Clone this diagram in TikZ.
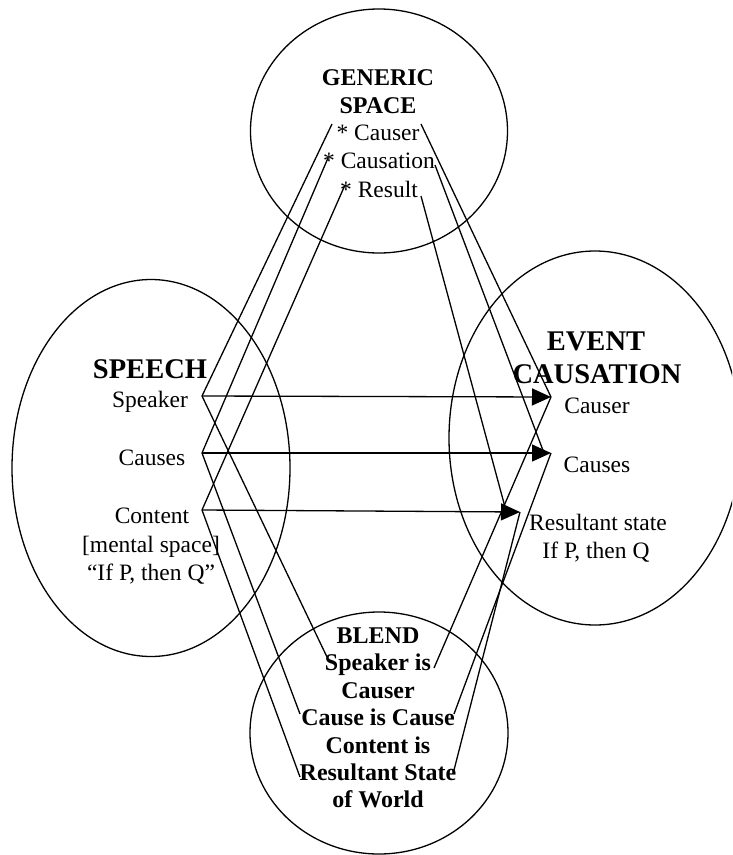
\documentclass[tikz,border=0pt]{standalone}
\usepackage{fontspec}
\setmainfont{Liberation Serif}
\usetikzlibrary{arrows.meta}
\tikzset{
	txt/.style={anchor=base, inner sep=0pt, font=\fontsize{23.5}{28}\selectfont},
	bigtitle/.style={txt, font=\fontsize{28.5}{33}\selectfont\bfseries},
	smalltitle/.style={txt, font=\fontsize{24}{28}\selectfont\bfseries},
	map/.style={-{Triangle[length=19pt,width=17pt]}}
}
\begin{document}
\begin{tikzpicture}[x=1pt,y=-1pt,line width=1.3pt]
	\clip (0,0) rectangle (732,855);
	\useasboundingbox (0,0) rectangle (732,855);
	% the four spaces
	\draw (379,131) ellipse [x radius=128.5, y radius=122];
	\draw (151,468) ellipse [x radius=139, y radius=188.5];
	\draw (595,438) ellipse [x radius=146, y radius=187];
	\draw (379,733) ellipse [x radius=129, y radius=121];
	% generic space
	\node [smalltitle] (gen-a) at (378,85) {GENERIC};
	\node [smalltitle] (gen-b) at (378,113) {SPACE};
	\node [txt] (gen-1) at (378,140) {* Causer};
	\node [txt] (gen-2) at (379,168) {* Causation};
	\node [txt] (gen-3) at (379,197) {* Result};
	% speech
	\node [bigtitle] (sp-a) at (150,378) {SPEECH};
	\node [txt] (sp-1) at (150,407) {Speaker};
	\node [txt] (sp-2) at (152,465) {Causes};
	\node [txt] (sp-3) at (152,523) {Content};
	\node [txt] (sp-4) at (151,552) {[mental space]};
	\node [txt] (sp-5) at (151,580) {“If P, then Q”};
	% event causation
	\node [bigtitle] (ev-a) at (596,350) {EVENT};
	\node [bigtitle] (ev-b) at (597,383) {CAUSATION};
	\node [txt] (ev-1) at (597,413) {Causer};
	\node [txt] (ev-2) at (597,472) {Causes};
	\node [txt] (ev-3) at (598,530) {Resultant state};
	\node [txt] (ev-4) at (596,558) {If P, then Q};
	% blend
	\foreach \t [count=\i] in {BLEND, Speaker is, Causer, Cause is Cause, Content is, Resultant State, of World}
		\node [smalltitle] (bl-\i) at (378,{616+27.4*\i}) {\t};
	% end points of the mappings
	\coordinate (gl1) at (332,124);
	\coordinate (gl2) at (328,158);
	\coordinate (gl3) at (345,185);
	\coordinate (gr1) at (421,124);
	\coordinate (gr2) at (435,165);
	\coordinate (gr3) at (421,196);
	\coordinate (sp1) at (202,396);
	\coordinate (sp2) at (202,453);
	\coordinate (sp3) at (202,510);
	\coordinate (ev1) at (551,397);
	\coordinate (ev2) at (551,453);
	\coordinate (ev3) at (520,512);
	\coordinate (bl1) at (327,657);
	\coordinate (bl2) at (300,714);
	\coordinate (bl3) at (300,777);
	\coordinate (br1) at (434,668);
	\coordinate (br2) at (454,714);
	\coordinate (br3) at (453,774);
	\foreach \i in {1,2,3} {
		\draw (gl\i) -- (sp\i);
		\draw (sp\i) -- (bl\i);
		\draw (ev\i) -- (br\i);
		\draw [map] (sp\i) -- (ev\i);
	}
	\draw (gr1) -- (ev1);
	\draw (gr2) -- ([xshift=-7pt]ev2);
	\draw (gr3) -- ([xshift=-15pt,yshift=5pt]ev3);
\end{tikzpicture}
\end{document}
